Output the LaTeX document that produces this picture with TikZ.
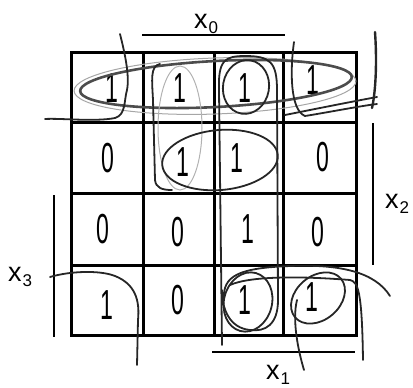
\documentclass[tikz,border=0pt]{standalone}
\usepackage{fontspec}
\setmainfont{Liberation Sans}
\newcommand\xlab[1]{x\hspace{1pt}\raisebox{-5pt}{\fontsize{17}{17}\selectfont #1}}
\newcommand\dg[1]{\scalebox{0.55}[1]{#1}}
\tikzset{
  gridline/.style={line width=3pt},
  digit/.style={font=\fontsize{42}{42}\selectfont, inner sep=0pt},
  hand/.style={line width=1.8pt, black!85, line cap=round},
  faint/.style={line width=1pt, black!35, line cap=round},
  bar/.style={line width=2.8pt},
  lab/.style={font=\fontsize{27}{27}\selectfont, inner sep=0pt, anchor=base west}
}
\begin{document}
\begin{tikzpicture}[x=1pt, y=-1pt]
\useasboundingbox (0,0) rectangle (413,388);
% grid
\draw[gridline] (71,52) rectangle (356,335);
\foreach \gx in {143,214,283} \draw[gridline] (\gx,52) -- (\gx,335);
\foreach \gy in {122,193,265} \draw[gridline] (71,\gy) -- (356,\gy);
% digits
\node[digit] (c00) at (112,88) {\dg{1}};
\node[digit] (c01) at (180,88) {\dg{1}};
\node[digit] (c02) at (245,88) {\dg{1}};
\node[digit] (c03) at (313,80) {\dg{1}};
\node[digit] (c10) at (108,158) {\dg{0}};
\node[digit] (c11) at (183,162) {\dg{1}};
\node[digit] (c12) at (237,158) {\dg{1}};
\node[digit] (c13) at (323,157) {\dg{0}};
\node[digit] (c20) at (103,229) {\dg{0}};
\node[digit] (c21) at (178,232) {\dg{0}};
\node[digit] (c22) at (248,229) {\dg{1}};
\node[digit] (c23) at (318,232) {\dg{0}};
\node[digit] (c30) at (107,305) {\dg{1}};
\node[digit] (c31) at (178,300) {\dg{0}};
\node[digit] (c32) at (245,300) {\dg{1}};
\node[digit] (c33) at (312,297) {\dg{1}};
% side bars and labels
\draw[bar] (142,35) -- (285,35);
\draw[bar] (212,352) -- (355,352);
\draw[bar] (373,123) -- (373,265);
\draw[bar] (54,195) -- (54,337);
\node[lab] (lx0) at (194,28) {\xlab{0}};
\node[lab] (lx1) at (266,379) {\xlab{1}};
\node[lab] (lx2) at (385,208) {\xlab{2}};
\node[lab] (lx3) at (8,281) {\xlab{3}};
% loops
\draw[faint] (215,86) ellipse [x radius=141, y radius=28, rotate=2];
\draw[line width=2.6pt, black!70] (216,84) ellipse [x radius=136, y radius=23, rotate=3];
\draw[faint, black!30] (180,128) ellipse [x radius=22, y radius=62];
\draw[hand] (160,64) .. controls (150,66) and (152,80) .. (153,100) -- (155,180) .. controls (156,188) and (162,190) .. (172,190);
\draw[hand] (222,345) -- (219,90) .. controls (218,60) and (225,56) .. (245,56) .. controls (270,56) and (277,62) .. (277,90) -- (278,300) .. controls (278,325) and (265,332) .. (250,330) .. controls (230,328) and (222,310) .. (222,290);
\draw[hand] (246,87) ellipse [x radius=23, y radius=27, rotate=-10];
\draw[hand] (220,160) ellipse [x radius=58, y radius=30, rotate=5];
\draw[hand] (224,300) .. controls (222,275) and (240,268) .. (290,266) .. controls (340,264) and (375,272) .. (390,296);
\draw[hand] (230,285) .. controls (250,276) and (300,276) .. (350,280) .. controls (358,282) and (362,290) .. (363,360);
\draw[hand] (318,298) ellipse [x radius=30, y radius=22, rotate=40];
\draw[hand] (297,300) .. controls (292,320) and (298,350) .. (304,370);
\draw[hand] (248,302) ellipse [x radius=24, y radius=30, rotate=-15];
% wrap-around corner groups
\draw[hand] (120,34) .. controls (124,50) and (130,75) .. (127,90) .. controls (124,100) and (126,115) .. (115,118) .. controls (95,122) and (60,118) .. (45,119);
\draw[hand] (294,42) .. controls (290,70) and (290,110) .. (305,116) .. controls (330,112) and (360,106) .. (377,104);
\draw[hand] (285,115) .. controls (320,108) and (350,102) .. (377,97);
\draw[hand, line width=2.4pt] (375,32) .. controls (377,60) and (376,90) .. (372,108);
\draw[hand] (50,277) .. controls (70,271) and (100,270) .. (115,276) .. controls (135,284) and (140,300) .. (138,320) -- (137,365);
\end{tikzpicture}
\end{document}
